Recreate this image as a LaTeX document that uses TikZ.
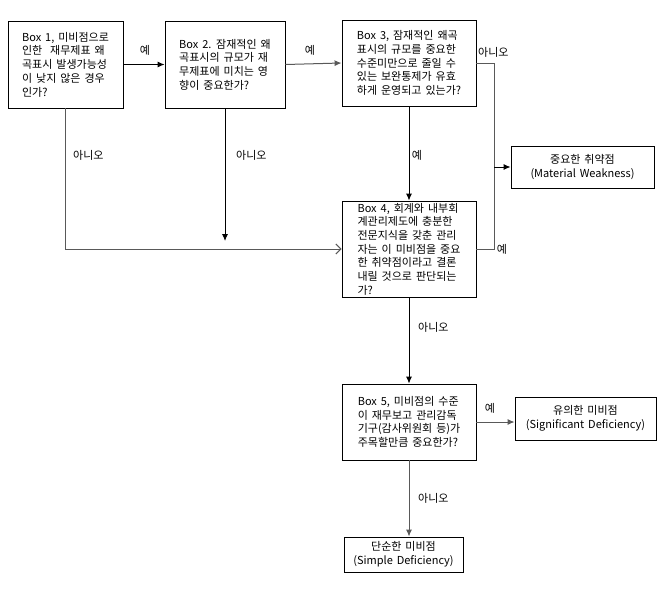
\documentclass[tikz,border=0pt]{standalone}
\usepackage{fontspec}
\setmainfont{Noto Sans CJK KR}[WordSpace=1.6]
\usetikzlibrary{arrows.meta}
\begin{document}
\begin{tikzpicture}[x=1pt,y=-1pt,
  txt/.style={font=\fontsize{11}{13.7}\selectfont},
  qbox/.style={txt, draw=black, line width=0.9pt, inner sep=0pt, align=left},
  rbox/.style={txt, draw=black, line width=0.9pt, inner sep=0pt, align=center},
  conn/.style={line width=0.9pt, draw=black},
  gconn/.style={line width=1pt, draw=black!65},
  tip/.style={-{Latex[length=7pt,width=6pt]}},
  opentip/.style={-{Straight Barb[length=5pt,width=10pt]}},
  lbl/.style={txt, inner sep=0pt}]
\useasboundingbox (0,0) rectangle (663,594);

% question boxes
\node[qbox, minimum width=115, minimum height=87] (b1) at (65.5,64.5)
  {Box 1, 미비점으로\\인한\ \ 재무제표 왜\\곡표시 발생가능성\\이 낮지 않은 경우\\인가?};
\node[qbox, minimum width=120, minimum height=87] (b2) at (225,64.5)
  {Box 2. 잠재적인 왜\\곡표시의 규모가 재\\무제표에 미치는 영\\향이 중요한가?};
\node[qbox, minimum width=134, minimum height=86] (b3) at (409,63)
  {Box 3, 잠재적인 왜곡\\표시의 규모를 중요한\\수준미만으로 줄일 수\\있는 보완통제가 유효\\하게 운영되고 있는가?};
\node[qbox, minimum width=134, minimum height=96] (b4) at (409,249)
  {Box 4, 회계와 내부회\\계관리제도에 충분한\\전문지식을 갖춘 관리\\자는 이 미비점을 중요\\한 취약점이라고 결론\\내릴 것으로 판단되는\\가?};
\node[qbox, minimum width=134, minimum height=76] (b5) at (409,422)
  {Box 5, 미비점의 수준\\이 재무보고 관리감독\\기구(감사위원회 등)가\\주목할만큼 중요한가?};

% result boxes
\node[rbox, minimum width=143, minimum height=42] (mw) at (582.5,167)
  {중요한 취약점\\(Material Weakness)};
\node[rbox, minimum width=141, minimum height=43] (sd) at (585.5,418.5)
  {유의한 미비점\\(Significant Deficiency)};
\node[rbox, minimum width=119, minimum height=35] (sm) at (403.5,554.5)
  {단순한 미비점\\(Simple Deficiency)};

% helper coordinates
\coordinate (j1) at (494,63);
\coordinate (j2) at (494,249);
\coordinate (e2) at (225,241);

% connectors
\draw[conn,tip] (b1.east) -- (b2.west);
\draw[gconn,tip] (b2.east) -- (b3.west);
\draw[conn,tip] (b3.south) -- (b4.north);
\draw[gconn] (b3.east) -- (j1) -- (j2) -- (b4.east);
\draw[conn,tip] (mw.west -| j1) -- (mw.west);
\draw[gconn,opentip] (b1.south) |- (b4.west);
\draw[conn,tip] (b2.south) -- (e2);
\draw[conn,tip] (b4.south) -- (b5.north);
\draw[gconn,tip] (b5.east) -- (b5.east -| sd.west);
\draw[gconn,tip] (b5.south) -- (b5.south |- sm.north);

% labels
\node[lbl] (l1) at (145,50) {예};
\node[lbl] (l2) at (310,50) {예};
\node[lbl, anchor=west] (l3) at (478,52) {아니오};
\node[lbl, anchor=west] (l4) at (73,155) {아니오};
\node[lbl, anchor=west] (l5) at (236,155) {아니오};
\node[lbl] (l6) at (417,155) {예};
\node[lbl] (l7) at (502,249) {예};
\node[lbl, anchor=west] (l8) at (418,327) {아니오};
\node[lbl] (l9) at (490,408) {예};
\node[lbl, anchor=west] (l10) at (418,498) {아니오};
\end{tikzpicture}
\end{document}
